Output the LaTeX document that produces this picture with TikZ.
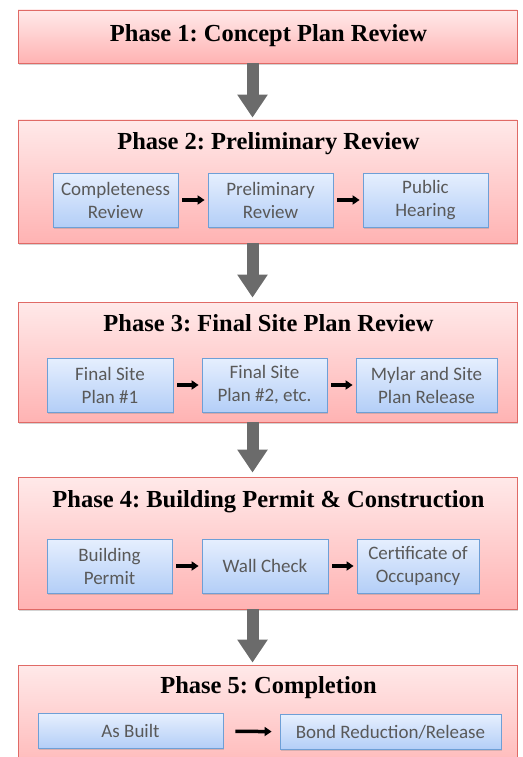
\documentclass[tikz,border=0pt]{standalone}
\usepackage{fontspec}
\setmainfont{Liberation Serif}
\newfontfamily\stepfont{Carlito}
\usetikzlibrary{arrows.meta,shadows}
\definecolor{phasetop}{HTML}{FFE9E9}
\definecolor{phasebot}{HTML}{FFB3B3}
\definecolor{phaseline}{HTML}{E06A66}
\definecolor{tasktop}{HTML}{E6EFFE}
\definecolor{taskbot}{HTML}{B3CEF7}
\definecolor{taskline}{HTML}{6E9FD6}
\definecolor{tasktext}{HTML}{595959}
\definecolor{bigarrow}{HTML}{6B6B6B}
\frenchspacing

\begin{document}
\begin{tikzpicture}[x=1pt,y=-1pt,
    phase/.style={draw=phaseline,line width=0.8pt,top color=phasetop,bottom color=phasebot,minimum width=499pt,inner sep=0pt,
        drop shadow={shadow xshift=1pt,shadow yshift=-2pt,opacity=0.35}},
    title/.style={anchor=base,font=\bfseries\fontsize{24.5}{28}\selectfont},
    task/.style={draw=taskline,line width=0.8pt,top color=tasktop,bottom color=taskbot,text=tasktext,align=center,
        font=\stepfont\fontsize{19}{23}\selectfont,minimum height=54pt,inner sep=0pt,
        drop shadow={shadow xshift=1pt,shadow yshift=-1.5pt,opacity=0.3}},
    down/.style={bigarrow,line width=12pt,-{Triangle[width=29pt,length=23pt]}},
    link/.style={black,line width=3.5pt,-{Triangle[width=9pt,length=7pt]},shorten <=4pt,shorten >=3pt}]
    \useasboundingbox (0,0) rectangle (522,757);
    \clip (0,0) rectangle (522,757);
    \node[phase,minimum height=53pt](p1)at (267.5,36.5){};
    \node[phase,minimum height=123pt](p2)at (267.5,181.5){};
    \node[phase,minimum height=120pt](p3)at (267.5,362){};
    \node[phase,minimum height=132pt](p4)at (267.5,543){};
    \node[phase,minimum height=115pt](p5)at (267.5,722.5){};
    \node[title](t1)at (268.5,42){Phase 1: Concept Plan Review};
    \node[title](t2)at (268.5,149){Phase 2: Preliminary Review};
    \node[title](t3)at (268.5,331){Phase 3: Final Site Plan Review};
    \node[title](t4)at (268.5,507){Phase 4: Building Permit \& Construction};
    \node[title](t5)at (268.5,693){Phase 5: Completion};
    \node[task,minimum width=125pt](cr)at (115.5,200){Completeness\\Review};
    \node[task,minimum width=125pt](pr)at (270.5,200){Preliminary\\Review};
    \node[task,minimum width=125pt](ph)at (425.5,200){Public\\Hearing};
    \node[task,minimum width=126pt](fs1)at (110,385){Final Site\\Plan \#1};
    \node[task,minimum width=125pt](fs2)at (264.5,385){Final Site\\Plan \#2, etc.};
    \node[task,minimum width=141pt](ms)at (426.5,385){Mylar and Site\\Plan Release};
    \node[task,minimum width=125pt](bp)at (109.5,566){Building\\Permit};
    \node[task,minimum width=126pt](wc)at (265,566){Wall Check};
    \node[task,minimum width=122pt](co)at (418,566){Certificate of\\Occupancy};
    \node[task,minimum width=185pt,minimum height=35pt](ab)at (130.5,731){As Built};
    \node[task,minimum width=221pt,minimum height=35pt](br)at (390.5,732){Bond Reduction/Release};
    \draw[link](cr)--(pr);
    \draw[link](pr)--(ph);
    \draw[link](fs1)--(fs2);
    \draw[link](fs2)--(ms);
    \draw[link](bp)--(wc);
    \draw[link](wc)--(co);
    \draw[link,shorten <=12pt,shorten >=8pt](ab)--(br);
    \draw[down]([xshift=-15pt]p1.south)--([xshift=-15pt,yshift=2pt]p2.north);
    \draw[down]([xshift=-15pt]p2.south)--([xshift=-15pt,yshift=4pt]p3.north);
    \draw[down]([xshift=-15pt]p3.south)--([xshift=-15pt,yshift=4pt]p4.north);
    \draw[down]([xshift=-15pt]p4.south)--([xshift=-15pt,yshift=2pt]p5.north);
\end{tikzpicture}
\end{document}
